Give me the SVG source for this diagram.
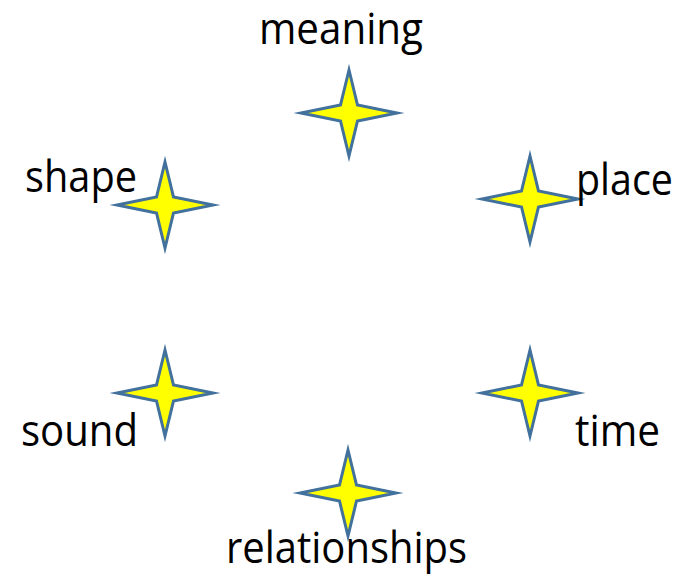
<svg xmlns="http://www.w3.org/2000/svg" xmlns:xlink="http://www.w3.org/1999/xlink" width="687" height="582" viewBox="0 0 687 582">
  <style>
    .star { fill: #FFFF00; stroke: #41719C; stroke-width: 3; stroke-linejoin: miter; stroke-miterlimit: 20; }
    .label { font-family: "Open Sans", "Noto Sans", "Liberation Sans", sans-serif; font-size: 44px; fill: #000000; }
  </style>
  <defs>
    <!-- four-point star centred on the origin -->
    <path id="star4" class="star" d="M0,-43 L8.5,-8 L48,0 L8.5,8 L0,43 L-8.5,8 L-48,0 L-8.5,-8 Z"/>
  </defs>
  <rect width="687" height="582" fill="#FFFFFF"/>
  <g id="connectors"/>
  <g id="meaning">
    <use xlink:href="#star4" href="#star4" transform="translate(349,113)"/>
    <text class="label" x="259" y="44" textLength="164" lengthAdjust="spacingAndGlyphs">meaning</text>
  </g>
  <g id="shape">
    <use xlink:href="#star4" href="#star4" transform="translate(165,205)"/>
    <text class="label" x="25" y="192" textLength="112" lengthAdjust="spacingAndGlyphs">shape</text>
  </g>
  <g id="place">
    <use xlink:href="#star4" href="#star4" transform="translate(530,199)"/>
    <text class="label" x="576" y="195" textLength="97" lengthAdjust="spacingAndGlyphs">place</text>
  </g>
  <g id="sound">
    <use xlink:href="#star4" href="#star4" transform="translate(165,393)"/>
    <text class="label" x="21" y="446" textLength="117" lengthAdjust="spacingAndGlyphs">sound</text>
  </g>
  <g id="time">
    <use xlink:href="#star4" href="#star4" transform="translate(530,393)"/>
    <text class="label" x="575" y="446" textLength="85" lengthAdjust="spacingAndGlyphs">time</text>
  </g>
  <g id="relationships">
    <use xlink:href="#star4" href="#star4" transform="translate(348,493)"/>
    <text class="label" x="226" y="563" textLength="241" lengthAdjust="spacingAndGlyphs">relationships</text>
  </g>
</svg>
